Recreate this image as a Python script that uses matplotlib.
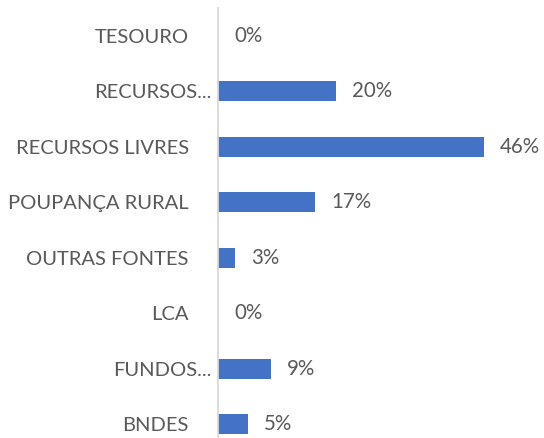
import matplotlib
matplotlib.use('Agg')
import matplotlib.pyplot as plt

# Categories (top to bottom) and share in %
categories = ['TESOURO', 'RECURSOS...', 'RECURSOS LIVRES', 'POUPANÇA RURAL',
              'OUTRAS FONTES', 'LCA', 'FUNDOS...', 'BNDES']
values = [0, 20.4, 46, 16.8, 2.9, 0, 9.2, 5.2]
labels = ['0%', '20%', '46%', '17%', '3%', '0%', '9%', '5%']

bar_color = '#4472C4'
text_color = '#595959'

plt.rcParams['font.family'] = ['Lato', 'DejaVu Sans']

fig = plt.figure(figsize=(5.44, 4.38), dpi=100)
ax = fig.add_axes([0.4007, -0.032, 0.531, 1.0137])

y = list(range(len(categories)))
bars = ax.barh(y, values, height=0.36, color=bar_color)
ax.bar_label(bars, labels=labels, padding=11.5, fontsize=14.8, color=text_color)

ax.set_xlim(0, 50)
ax.set_ylim(len(categories) - 0.5, -0.5)
ax.set_yticks(y)
ax.set_yticklabels(categories, fontsize=14.5, color=text_color)
ax.set_xticks([])
ax.tick_params(axis='y', length=0)

# truncated labels overflow to the right, like the original
for tick, name in zip(ax.yaxis.get_major_ticks(), categories):
    tick.set_pad(5 if name.endswith('...') else 21)

for side in ['top', 'right', 'bottom']:
    ax.spines[side].set_visible(False)
ax.spines['left'].set_color('#D9D9D9')
ax.spines['left'].set_linewidth(1.3)

fig.savefig('out.png', dpi=100)
